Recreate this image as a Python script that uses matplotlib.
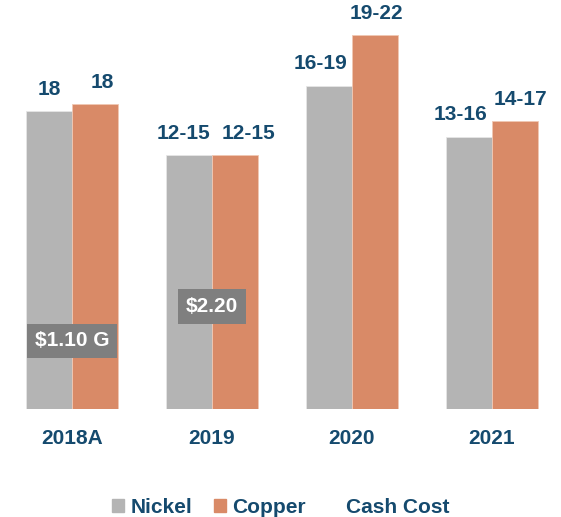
"""
Nickel / copper grouped bars with cash cost boxes
"""

import numpy as np
import matplotlib
matplotlib.use("Agg")
import matplotlib.pyplot as plt
from matplotlib.patches import Patch

years = ["2018A", "2019", "2020", "2021"]
nickel = [17.95, 15.3, 19.46, 16.39]
copper = [18.37, 15.3, 22.53, 17.35]
nickel_labels = ["18", "12-15", "16-19", "13-16"]
copper_labels = ["18", "12-15", "19-22", "14-17"]
cash_cost = ["$1.10 G", "$2.20"]
cash_cost_level = [4.1, 6.2]

# small horizontal nudges of the value labels (points)
nickel_dx = [0, -4, -6, -6]
copper_dx = [5, 10, 1, 4]

GREY = "#b4b4b4"
ORANGE = "#d98a67"
NAVY = "#154a6e"
BOXGREY = "#7f7f7f"

plt.rcParams["font.family"] = ["Liberation Sans", "DejaVu Sans"]

fig = plt.figure(figsize=(5.61, 5.17), dpi=100)
ax = fig.add_axes([0, 0.2089, 1, 0.7911])

x = np.arange(len(years))
w = 0.329
ax.bar(x - w / 2, nickel, w, color=GREY, edgecolor="#e6e6e6", linewidth=0.6)
ax.bar(x + w / 2, copper, w, color=ORANGE, edgecolor="#f0c8b4", linewidth=0.6)

for i in range(len(years)):
    ax.annotate(nickel_labels[i], (x[i] - w / 2, nickel[i]), xytext=(nickel_dx[i], 9),
                textcoords="offset points", ha="center", va="bottom",
                fontsize=15, fontweight="bold", color=NAVY)
    ax.annotate(copper_labels[i], (x[i] + w / 2, copper[i]), xytext=(copper_dx[i], 9),
                textcoords="offset points", ha="center", va="bottom",
                fontsize=15, fontweight="bold", color=NAVY)
    ax.annotate(years[i], (x[i], 0), xytext=(0, -21),
                textcoords="offset points", ha="center", va="center",
                fontsize=15, fontweight="bold", color=NAVY)

# cash cost boxes
for i in range(len(cash_cost)):
    ax.text(x[i], cash_cost_level[i], cash_cost[i], ha="center", va="center",
            fontsize=15, fontweight="bold", color="white",
            bbox=dict(boxstyle="square,pad=0.38", fc=BOXGREY, ec="none"))

ax.set_xlim(-0.514, 3.493)
ax.set_ylim(0, 24.64)
ax.axis("off")

handles = [Patch(color=GREY), Patch(color=ORANGE), Patch(color="white")]
leg = fig.legend(handles, ["Nickel", "Copper", "Cash Cost"], loc="center",
                 bbox_to_anchor=(0.5, 0.019), ncol=3, frameon=False,
                 handlelength=0.58, handleheight=0.58, handletextpad=0.29,
                 columnspacing=1.05, prop={"size": 15, "weight": "bold"})
for t in leg.get_texts():
    t.set_color(NAVY)

fig.savefig("out.png", dpi=100)
